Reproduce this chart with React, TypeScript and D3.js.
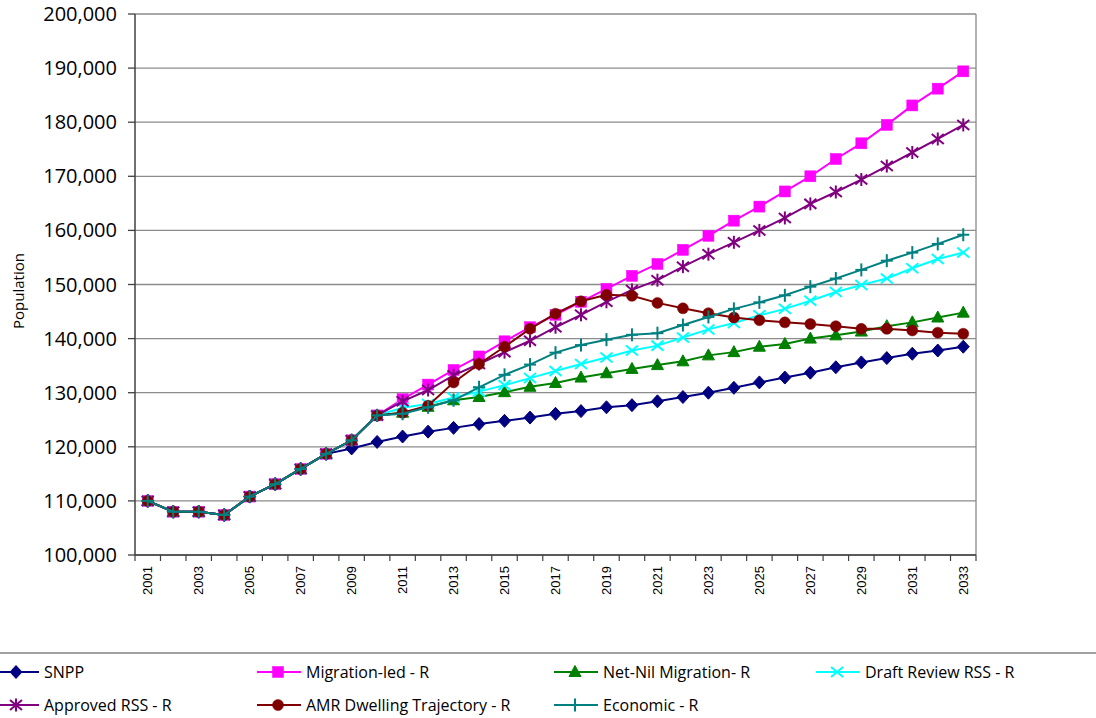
import React from "react";
import * as d3 from "d3";

const years: number[] = d3.range(2001, 2034);
const yTicks: number[] = [100000, 110000, 120000, 130000, 140000, 150000, 160000, 170000, 180000, 190000, 200000];
const xTickLabels: number[] = years.filter((y) => (y - 2001) % 2 === 0);

const historic: number[] = [110000, 108000, 108000, 107400, 110800, 113100, 115900, 118700];

const snpp: number[] = [...historic, 119700, 120900, 121900, 122800, 123500, 124200, 124800, 125400, 126100, 126600, 127300, 127700, 128400, 129200, 130000, 130900, 131900, 132800, 133700, 134700, 135600, 136400, 137200, 137800, 138500];
const migrationLed: number[] = [...historic, 121200, 125800, 128800, 131500, 134200, 136700, 139500, 142100, 144400, 146800, 149200, 151600, 153800, 156400, 159000, 161800, 164400, 167200, 170000, 173200, 176100, 179500, 183100, 186200, 189400];
const netNil: number[] = [...historic, 121200, 125800, 126300, 127400, 128600, 129200, 130100, 131100, 131800, 132800, 133600, 134400, 135100, 135800, 136900, 137500, 138500, 139000, 140000, 140600, 141300, 142300, 143000, 143900, 144800];
const draftReview: number[] = [...historic, 121200, 125800, 127200, 127900, 129100, 130200, 131400, 132700, 134000, 135300, 136500, 137800, 138700, 140200, 141700, 142900, 144300, 145500, 147000, 148600, 149900, 151100, 153000, 154700, 155900];
const approved: number[] = [...historic, 121200, 125800, 128400, 130500, 133200, 135300, 137500, 139600, 142100, 144400, 146800, 149000, 150800, 153300, 155600, 157800, 160000, 162300, 164900, 167100, 169400, 171900, 174400, 176900, 179500];
const amr: number[] = [...historic, 121200, 125800, 126300, 127600, 131900, 135300, 138500, 141800, 144600, 146900, 148100, 147900, 146600, 145600, 144700, 143900, 143400, 143000, 142700, 142300, 141800, 141800, 141500, 141100, 140900];
const economic: number[] = [...historic, 121200, 125800, 126100, 127300, 128600, 131000, 133300, 135200, 137400, 138800, 139800, 140700, 141000, 142500, 144000, 145500, 146700, 148000, 149600, 151100, 152700, 154400, 155900, 157500, 159200];

const seriesNames: string[] = ["SNPP", "Migration-led - R", "Net-Nil Migration- R", "Draft Review RSS - R", "Approved RSS - R", "AMR Dwelling Trajectory - R", "Economic - R"];
const seriesColors: string[] = ["#000080", "#FF00FF", "#008000", "#00FFFF", "#800080", "#800000", "#008080"];
const seriesMarkers: string[] = ["diamond", "square", "triangle", "x", "asterisk", "circle", "plus"];
const seriesValues: number[][] = [snpp, migrationLed, netNil, draftReview, approved, amr, economic];

const W = 1096;
const H = 718;
const plotLeft = 135;
const plotRight = 976;
const plotTop = 14;
const plotBottom = 555;

const x = d3.scaleBand<number>().domain(years).range([plotLeft, plotRight]);
const y = d3.scaleLinear().domain([100000, 200000]).range([plotBottom, plotTop]);
const cx = (yr: number) => (x(yr) as number) + x.bandwidth() / 2;
const fmt = d3.format(",");

function Marker({ type, color, px, py }: { type: string; color: string; px: number; py: number }) {
  const s = 5.5;
  switch (type) {
    case "diamond":
      return <path d={`M${px},${py - 6.5}L${px + 6},${py}L${px},${py + 6.5}L${px - 6},${py}Z`} fill={color} stroke={color} strokeWidth={1} />;
    case "square":
      return <rect x={px - s} y={py - s} width={2 * s} height={2 * s} fill={color} stroke={color} strokeWidth={0.5} />;
    case "triangle":
      return <path d={`M${px},${py - 6.5}L${px + 6},${py + 4.5}L${px - 6},${py + 4.5}Z`} fill={color} stroke={color} strokeWidth={1} />;
    case "circle":
      return <circle cx={px} cy={py} r={5.5} fill={color} stroke={color} strokeWidth={0.5} />;
    case "x":
      return (
        <g stroke={color} strokeWidth={2}>
          <line x1={px - 6} y1={py - 5} x2={px + 6} y2={py + 5} />
          <line x1={px - 6} y1={py + 5} x2={px + 6} y2={py - 5} />
        </g>
      );
    case "asterisk":
      return (
        <g stroke={color} strokeWidth={2}>
          <line x1={px - 6} y1={py - 5} x2={px + 6} y2={py + 5} />
          <line x1={px - 6} y1={py + 5} x2={px + 6} y2={py - 5} />
          <line x1={px} y1={py - 6.5} x2={px} y2={py + 6.5} />
        </g>
      );
    case "plus":
      return (
        <g stroke={color} strokeWidth={2}>
          <line x1={px - 6} y1={py} x2={px + 6} y2={py} />
          <line x1={px} y1={py - 6.5} x2={px} y2={py + 6.5} />
        </g>
      );
    default:
      return null;
  }
}

export default function App() {
  const line = d3
    .line<number>()
    .x((_, i) => cx(years[i]))
    .y((d) => y(d));

  const legendTextX = [44, 306, 603, 865];
  const legendRows = [672, 705];

  return (
    <svg width={W} height={H} style={{ position: "absolute", left: 0, top: 0, background: "#fff" }}>
      <rect x={0} y={0} width={W} height={H} fill="#fff" />
      {yTicks.map((t) => (
        <line key={t} x1={plotLeft} x2={plotRight} y1={y(t)} y2={y(t)} stroke="#8c8c8c" strokeWidth={1.3} />
      ))}
      <line x1={plotRight} x2={plotRight} y1={plotTop} y2={plotBottom} stroke="#8c8c8c" strokeWidth={1.3} />
      <line x1={plotLeft} x2={plotLeft} y1={plotTop} y2={plotBottom} stroke="#404040" strokeWidth={1.5} />
      {yTicks.map((t) => (
        <g key={t}>
          <line x1={plotLeft - 7} x2={plotLeft} y1={y(t)} y2={y(t)} stroke="#404040" strokeWidth={1.3} />
          <text x={117} y={y(t)} dy="0.35em" textAnchor="end" fontFamily="Open Sans" fontSize={20} fill="#000">
            {fmt(t)}
          </text>
        </g>
      ))}
      <line x1={plotLeft} x2={plotRight} y1={plotBottom} y2={plotBottom} stroke="#404040" strokeWidth={1.5} />
      {years.map((yr) => (
        <line key={yr} x1={x(yr) as number} x2={x(yr) as number} y1={plotBottom} y2={plotBottom + 6} stroke="#404040" strokeWidth={1.2} />
      ))}
      <line x1={plotRight} x2={plotRight} y1={plotBottom} y2={plotBottom + 6} stroke="#404040" strokeWidth={1.2} />
      {xTickLabels.map((yr) => (
        <text
          key={yr}
          transform={`translate(${cx(yr)},${plotBottom + 11}) rotate(-90)`}
          textAnchor="end"
          dy="0.35em"
          fontFamily="Liberation Sans"
          fontSize={13}
          fill="#000"
        >
          {yr}
        </text>
      ))}
      <text transform="translate(19,291) rotate(-90)" textAnchor="middle" dy="0.35em" fontFamily="Open Sans" fontSize={15} fill="#000">
        Population
      </text>
      {seriesValues.map((vals, si) => (
        <g key={si}>
          <path d={line(vals) || ""} fill="none" stroke={seriesColors[si]} strokeWidth={2} />
          {vals.map((v, i) => (
            <Marker key={i} type={seriesMarkers[si]} color={seriesColors[si]} px={cx(years[i])} py={y(v)} />
          ))}
        </g>
      ))}
      <line x1={0} x2={W} y1={653} y2={653} stroke="#808080" strokeWidth={1.5} />
      {seriesNames.map((name, i) => {
        const col = i % 4;
        const row = Math.floor(i / 4);
        const tx = legendTextX[col];
        const ly = legendRows[row];
        return (
          <g key={name}>
            <line x1={tx - 49} x2={tx - 5} y1={ly} y2={ly} stroke={seriesColors[i]} strokeWidth={2} />
            <Marker type={seriesMarkers[i]} color={seriesColors[i]} px={tx - 28} py={ly} />
            <text x={tx} y={ly} dy="0.35em" fontFamily="Open Sans" fontSize={16} fill="#000">
              {name}
            </text>
          </g>
        );
      })}
    </svg>
  );
}
